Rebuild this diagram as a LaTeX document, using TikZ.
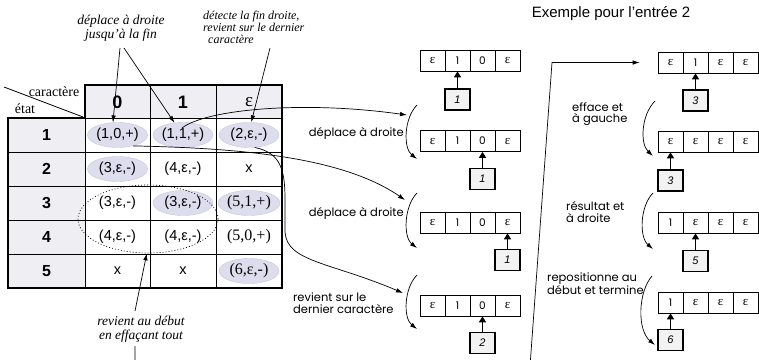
\documentclass[tikz,border=0pt]{standalone}
\usepackage{fontspec}
\setmainfont{Liberation Serif}
\setsansfont{Liberation Sans}
\newfontfamily\geo{Poppins}
\usetikzlibrary{arrows.meta,shapes.geometric,calc}
\definecolor{hdr}{HTML}{EFEFF3}
\definecolor{lav}{HTML}{DDDDEE}
\definecolor{lavd}{HTML}{C6C6DE}
\definecolor{boxg}{HTML}{F2F2F2}
\newcommand\fs[1]{\fontsize{#1}{#1}\selectfont}
\newcommand\myeps{{\rmfamily\fontsize{13}{13}\selectfont ε}}
\newcommand\mktape[7]{%
  \node[tcell] (#1a) at ({#2+12.5},#3) {#4};
  \node[tcell] (#1b) at ({#2+37.5},#3) {#5};
  \node[tcell] (#1c) at ({#2+62.5},#3) {#6};
  \node[tcell] (#1d) at ({#2+87.5},#3) {#7};}
\begin{document}
\begin{tikzpicture}[x=1pt,y=-1pt,
  thinl/.style={line width=0.9pt},
  outerl/.style={line width=2pt},
  ell/.style={ellipse, fill=lav, draw=lavd, line width=0.4pt, minimum width=60pt, minimum height=25pt, inner sep=0pt, font=\sffamily\fs{14.5}},
  ctext/.style={inner sep=0pt, font=\sffamily\fs{14.5}},
  cserif/.style={font=\rmfamily\fs{16}},
  hdrtxt/.style={font=\sffamily\bfseries\fs{18}},
  rowtxt/.style={font=\sffamily\bfseries\fs{16}},
  anno/.style={font=\rmfamily\itshape\fontsize{13.5}{14.5}\selectfont, align=center, inner sep=0pt},
  arr/.style={line width=0.7pt, -{Latex[length=7pt,width=4.5pt]}},
  tcell/.style={draw, line width=0.7pt, minimum width=25pt, minimum height=21pt, inner sep=0pt, font=\geo\fs{10.5}},
  headbox/.style={draw, fill=boxg, line width=1.2pt, minimum width=25pt, minimum height=21pt, inner sep=0pt, font=\sffamily\itshape\fs{11}},
  harr/.style={line width=1.6pt, -{Triangle[length=6pt,width=7pt]}},
  lbl/.style={font=\geo\fontsize{11.5}{11.5}\selectfont, align=left, inner sep=0pt}
]
\useasboundingbox (0,0) rectangle (759,359);

% ---------- table ----------
\fill[hdr] (85,85) rectangle (282,118);
\fill[hdr] (8,118) rectangle (85,288);

\node[ell] (e10) at (117.5,135) {(1,0,+)};
\node[ell] (e11) at (183,135) {(1,1,+)};
\node[ell] (e12) at (249,135) {(2,ε,-)};
\node[ell] (e20) at (117.5,169) {(3,ε,-)};
\node[ell] (e31) at (183,203) {(3,ε,-)};
\node[ell, cserif] (e32) at (249,203) {(5,1,+)};
\node[ell, cserif] (e52) at (249,271) {(6,ε,-)};

\foreach \yy in {152,186,220,254} \draw[thinl] (8,\yy) -- (282,\yy);
\draw[thinl] (85,118) -- (282,118);
\foreach \xx in {150,216} \draw[thinl] (\xx,85) -- (\xx,288);
\draw[thinl] (85,118) -- (85,288);
\draw[outerl] (85,85) -- (282,85) -- (282,288) -- (8,288) -- (8,118) -- (85,118) -- cycle;
\draw[line width=0.8pt] (4,87) -- (83,117);

\node[font=\rmfamily\fs{14}, inner sep=0pt] (car) at (54,92) {caractère};
\node[font=\rmfamily\fs{14}, inner sep=0pt] (eta) at (25,109) {état};
\node[hdrtxt] (h0) at (117.5,102) {0};
\node[hdrtxt] (hh1) at (183,102) {1};
\node[font=\rmfamily\fs{19}] (hh2) at (249,102) {ε};
\node[rowtxt] (r1) at (46.5,135) {1};
\node[rowtxt] (r2) at (46.5,169) {2};
\node[rowtxt] (r3) at (46.5,203) {3};
\node[rowtxt] (r4) at (46.5,237) {4};
\node[rowtxt] (r5) at (46.5,271) {5};

\node[ctext] (c21) at (183,169) {(4,ε,-)};
\node[ctext] (c22) at (249,169) {x};
\node[ctext] (c30) at (117.5,203) {(3,ε,-)};
\node[ctext] (c40) at (117.5,237) {(4,ε,-)};
\node[ctext] (c41) at (183,237) {(4,ε,-)};
\node[ctext, cserif] (c42) at (249,237) {(5,0,+)};
\node[ctext] (c50) at (117.5,271) {x};
\node[ctext] (c51) at (183,271) {x};

\node[ellipse, draw, dash pattern=on 0.9pt off 2.1pt, line width=0.7pt, minimum width=140pt, minimum height=68pt] (grp) at (148,219) {};

% ---------- annotations ----------
\node[anno] (n1) at (121,28) {déplace à droite\\jusqu’à la fin};
\coordinate (n1a) at (120,48);
\coordinate (n1b) at (124,48);
\draw[arr] (n1a) -- (e10.110);
\draw[arr] (n1b) -- (e11.125);

\node[font=\rmfamily\itshape\fontsize{12}{11.8}\selectfont, align=left, inner sep=0pt, anchor=north west] (n2) at (203,11) {détecte la fin droite,\\revient sur le dernier\\\hspace*{5pt}caractère};
\coordinate (n2a) at (270,48);
\draw[arr] (n2a) -- (e12.80);

\node[anno] (n3) at (141,329) {revient au début\\en effaçant tout};
\coordinate (n3t) at (135,311);
\coordinate (n3b) at (135,346);
\draw[arr] (n3t) -- (grp.268);

% ---------- title ----------
\node[font=\sffamily\fs{15}, inner sep=0pt] (title) at (611,14) {Exemple pour l’entrée 2};

% ---------- tapes, left ----------
\mktape{t1}{420}{60.5}{\myeps}{1}{0}{\myeps}
\node[headbox] (h1) at (457.5,99.5) {1};
\draw[harr] (h1.north) -- (t1b.south);
\mktape{t2}{420}{141}{\myeps}{1}{0}{\myeps}
\node[headbox] (h2) at (482.5,179) {1};
\draw[harr] (h2.north) -- (t2c.south);
\mktape{t3}{420}{222.5}{\myeps}{1}{0}{\myeps}
\node[headbox] (h3) at (507.5,260) {1};
\draw[harr] (h3.north) -- (t3d.south);
\mktape{t4}{420}{305.5}{\myeps}{1}{0}{\myeps}
\node[headbox] (h4) at (482.5,343) {2};
\draw[harr] (h4.north) -- (t4c.south);

% ---------- tapes, right ----------
\mktape{s1}{658}{62.5}{\myeps}{1}{\myeps}{\myeps}
\node[headbox] (h5) at (695.5,100.5) {3};
\draw[harr] (h5.north) -- (s1b.south);
\mktape{s2}{658}{141.5}{\myeps}{\myeps}{\myeps}{\myeps}
\node[headbox] (h6) at (670.5,180.5) {3};
\draw[harr] (h6.north) -- (s2a.south);
\mktape{s3}{658}{222.5}{1}{\myeps}{\myeps}{\myeps}
\node[headbox] (h7) at (695.5,261) {5};
\draw[harr] (h7.north) -- (s3b.south);
\mktape{s4}{658}{302.5}{1}{\myeps}{\myeps}{\myeps}
\node[headbox] (h8) at (670.5,340) {6};
\draw[harr] (h8.north) -- (s4a.south);

% ---------- step arcs ----------
\coordinate (a1s) at (417,105); \coordinate (a1e) at (417,159);
\draw[arr] (a1s) .. controls (404,118) and (403,148) .. (a1e);
\coordinate (a2s) at (417,193); \coordinate (a2e) at (417,248);
\draw[arr] (a2s) .. controls (404,206) and (403,237) .. (a2e);
\coordinate (a3s) at (417,275); \coordinate (a3e) at (417,329);
\draw[arr] (a3s) .. controls (404,288) and (403,318) .. (a3e);
\coordinate (b1s) at (655,101); \coordinate (b1e) at (653,156);
\draw[arr] (b1s) .. controls (641,115) and (640,144) .. (b1e);
\coordinate (b2s) at (653,193); \coordinate (b2e) at (653,249);
\draw[arr] (b2s) .. controls (640,206) and (639,237) .. (b2e);
\coordinate (b3s) at (652,276); \coordinate (b3e) at (655,345);
\draw[arr] (b3s) .. controls (638,292) and (637,330) .. (b3e);

\node[lbl, anchor=east] (l1) at (404,133) {déplace à droite};
\node[lbl, anchor=east] (l2) at (404,213) {déplace à droite};
\node[lbl, anchor=west] (l3) at (293,303) {revient sur le\\dernier caractère};
\node[lbl, anchor=west] (l4) at (572,114) {efface et\\à gauche};
\node[lbl, anchor=west] (l5) at (566,212) {résultat et\\à droite};
\node[lbl, anchor=west] (l6) at (547,284) {repositionne au\\début et termine};

% ---------- connectors table -> steps ----------
\coordinate (c1s) at ($(e11.center)+(-1,-7)$);
\coordinate (c1e) at (407,115);
\draw[arr] (c1s) .. controls (205,110) and (300,100) .. (c1e);
\coordinate (c2e) at (405,200);
\draw[arr] (e10.-35) .. controls (230,148) and (340,155) .. (c2e);
\coordinate (c3e) at (403,293);
\draw[arr] (e12.-65) .. controls (281,153) and (285,170) .. (285,200) -- (285,232) .. controls (287,262) and (330,262) .. (c3e);

\begin{scope}
\clip (0,0) rectangle (759,359);
\draw[arr, shorten >=18pt] (n3b) -- (135,380) -- (529,380) -- (552,62.5) -- (s1a.west);
\end{scope}
\end{tikzpicture}
\end{document}
